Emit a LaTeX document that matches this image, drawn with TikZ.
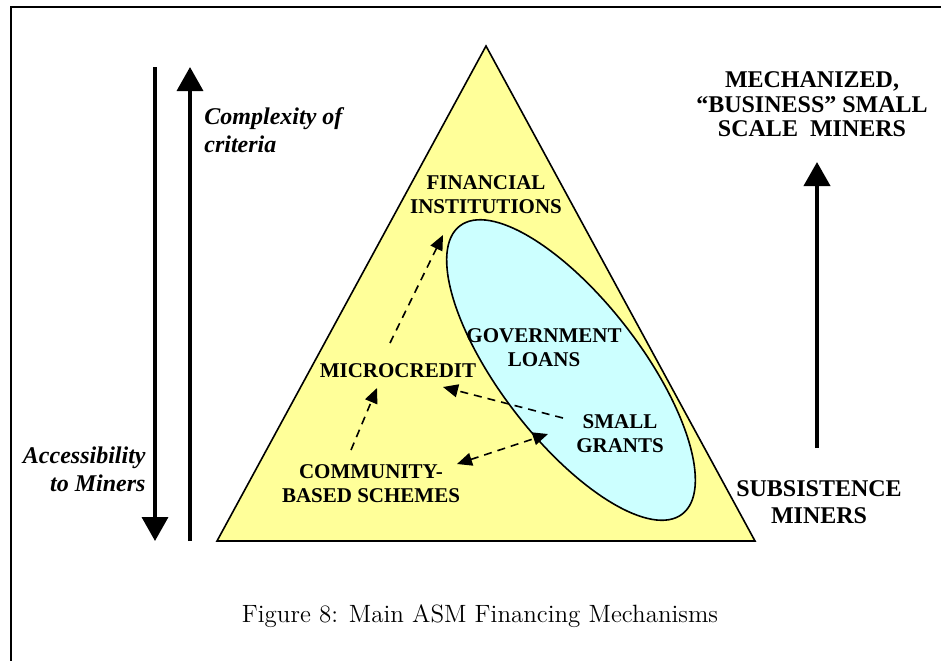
\documentclass[tikz,border=0pt]{standalone}
\usepackage{fontspec}
\newfontfamily\tnr{Liberation Serif}
\usetikzlibrary{arrows.meta,shapes.geometric}
\definecolor{triyellow}{HTML}{FFFF99}
\definecolor{elcyan}{HTML}{CCFFFF}
\begin{document}
\begin{tikzpicture}[x=0.5pt,y=-0.5pt,
  lbl/.style={font=\tnr\bfseries\fontsize{10.5pt}{12pt}\selectfont, align=center, inner sep=0pt},
  big/.style={font=\tnr\bfseries\fontsize{12pt}{12.25pt}\selectfont, align=center, inner sep=0pt},
  ital/.style={font=\tnr\bfseries\itshape\fontsize{12pt}{14pt}\selectfont, inner sep=0pt},
  thickarrow/.style={line width=1.8pt, -{Triangle[length=12pt,width=13pt]}},
  dasharrow/.style={line width=0.8pt, dash pattern=on 4pt off 3pt, -{Triangle[length=7.5pt,width=6.5pt]}},
  dasharrows/.style={line width=0.8pt, dash pattern=on 4pt off 3pt, {Triangle[length=7.5pt,width=6.5pt]}-{Triangle[length=7.5pt,width=6.5pt]}},
]
\useasboundingbox (0,0) rectangle (941,660);
% frame
\coordinate (fbl) at (11,662);
\coordinate (ftl) at (11,7);
\coordinate (ftr) at (943,7);
\draw[line width=1pt] (fbl) -- (ftl) -- (ftr);
% triangle
\coordinate (A) at (486,46);
\coordinate (B) at (217,541);
\coordinate (C) at (755,541);
\draw[fill=triyellow, line width=0.8pt] (A) -- (B) -- (C) -- cycle;
% ellipse
\node[ellipse, draw, line width=0.8pt, fill=elcyan, minimum width=182pt, minimum height=70pt, inner sep=0pt, rotate=-52.3] (gov) at (571,370) {};
% labels
\node[lbl] (fin) at (486,195) {FINANCIAL\\INSTITUTIONS};
\node[lbl] (govl) at (544,347.5) {GOVERNMENT\\LOANS};
\node[lbl] (micro) at (398,371) {MICROCREDIT};
\node[lbl] (grants) at (620,433.5) {SMALL\\GRANTS};
\node[lbl] (comm) at (371,483.5) {COMMUNITY-\\BASED SCHEMES};
\node[big] (mech) at (812,104.5) {MECHANIZED,\\“BUSINESS” SMALL\\SCALE\ \ MINERS};
\node[big, font=\tnr\bfseries\fontsize{12pt}{13.5pt}\selectfont] (subs) at (819,502.5) {SUBSISTENCE\\MINERS};
\node[ital, anchor=west, align=left] (cplx) at (204,130) {Complexity of\\criteria};
\node[ital, anchor=east, align=right] (acc) at (146,469.5) {Accessibility\\to Miners};
\node[font=\fontsize{12.5pt}{15pt}\selectfont, anchor=base, inner sep=0pt] (cap) at (480,622) {Figure 8: Main ASM Financing Mechanisms};
% thick arrows
\coordinate (dnS) at (155,67);
\coordinate (dnE) at (155,541);
\coordinate (upS) at (190,541);
\coordinate (upE) at (190,67);
\coordinate (rS) at (817,448);
\coordinate (rE) at (817,162);
\draw[thickarrow] (dnS) -- (dnE);
\draw[thickarrow] (upS) -- (upE);
\draw[thickarrow, line width=2pt] (rS) -- (rE);
% dashed arrows
\coordinate (d1s) at (390,343);
\coordinate (d1e) at (443,235);
\coordinate (d2s) at (351,450);
\coordinate (d2e) at (377,388);
\coordinate (d3s) at (563,418);
\coordinate (d3e) at (443,387);
\coordinate (d4s) at (457,464);
\coordinate (d4e) at (548,434);
\draw[dasharrow] (d1s) -- (d1e);
\draw[dasharrow] (d2s) -- (d2e);
\draw[dasharrow] (d3s) -- (d3e);
\draw[dasharrows] (d4s) -- (d4e);
\end{tikzpicture}
\end{document}
